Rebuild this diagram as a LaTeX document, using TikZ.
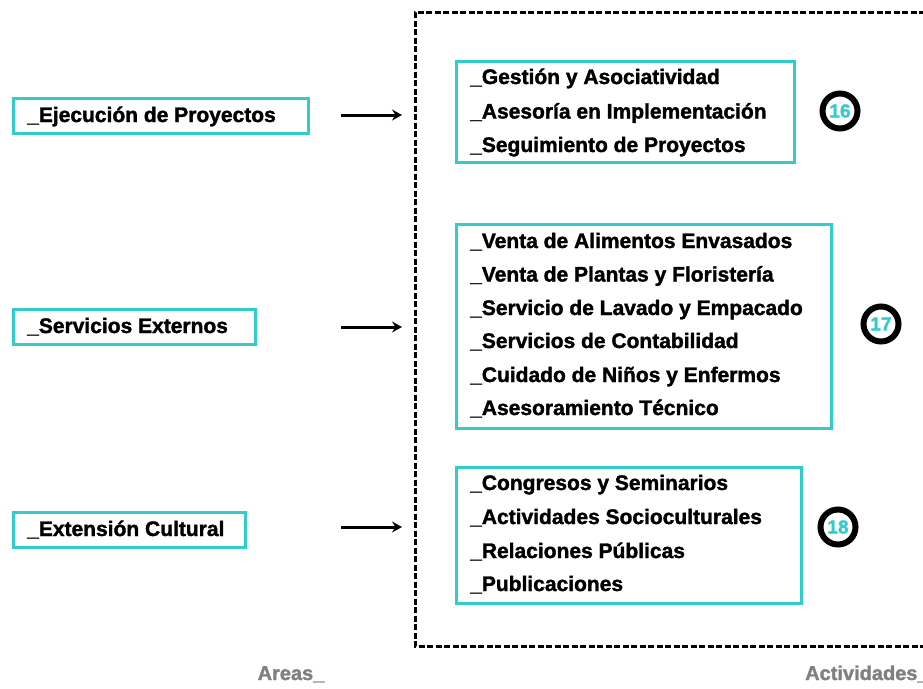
\documentclass[tikz,border=0pt]{standalone}
\usepackage{fontspec}
\setmainfont{Liberation Sans}[BoldFeatures={FakeBold=1.6}]
\usetikzlibrary{arrows.meta}
\definecolor{cy}{RGB}{51,204,204}
\definecolor{gr}{RGB}{128,128,128}
\begin{document}
\begin{tikzpicture}[x=1pt,y=-1pt,
  boxc/.style={draw=cy,line width=3pt,inner sep=0pt,anchor=north west},
  itemtxt/.style={anchor=base west,inner sep=0pt,font=\fontsize{21}{21}\selectfont\bfseries},
  num/.style={circle,draw=black,line width=6pt,minimum size=35pt,inner sep=0pt,text=cy,font=\fontsize{19}{19}\selectfont\bfseries},
  lbl/.style={inner sep=0pt,text=gr,font=\fontsize{20}{20}\selectfont\bfseries},
  arr/.style={line width=3pt,-{Stealth[length=10pt,width=11pt,inset=3.5pt]}}
]
\useasboundingbox (0,0) rectangle (923,688);

% dashed frame
\draw[line width=3pt,dash pattern=on 6pt off 2.5pt] (925,12) -- (415,12) -- (415,646) -- (925,646);

% left boxes
\node[boxc,minimum width=295pt,minimum height=35pt] (L1) at (12,97) {};
\node[itemtxt] (L1t) at (27,122) {\_Ejecución de Proyectos};
\node[boxc,minimum width=242pt,minimum height=35pt] (L2) at (12,308) {};
\node[itemtxt] (L2t) at (27,333) {\_Servicios Externos};
\node[boxc,minimum width=232pt,minimum height=35pt] (L3) at (12,511) {};
\node[itemtxt] (L3t) at (27,536) {\_Extensión Cultural};

% arrows
\coordinate (a1s) at (341,115); \coordinate (a1e) at (402,115);
\coordinate (a2s) at (341,327); \coordinate (a2e) at (402,327);
\coordinate (a3s) at (341,527); \coordinate (a3e) at (402,527);
\draw[arr] (a1s) -- (a1e);
\draw[arr] (a2s) -- (a2e);
\draw[arr] (a3s) -- (a3e);

% right box 1
\node[boxc,minimum width=338pt,minimum height=101pt] (R1) at (455,60) {};
\node[itemtxt] (R1a) at (470,84) {\_Gestión y Asociatividad};
\node[itemtxt] (R1b) at (470,118.5) {\_Asesoría en Implementación};
\node[itemtxt] (R1c) at (470,152) {\_Seguimiento de Proyectos};
\node[num] (C1) at (840,111) {16};

% right box 2
\node[boxc,minimum width=375pt,minimum height=204pt] (R2) at (455,223) {};
\node[itemtxt] (R2a) at (470,248) {\_Venta de Alimentos Envasados};
\node[itemtxt] (R2b) at (470,281.5) {\_Venta de Plantas y Floristería};
\node[itemtxt] (R2c) at (470,315) {\_Servicio de Lavado y Empacado};
\node[itemtxt] (R2d) at (470,348) {\_Servicios de Contabilidad};
\node[itemtxt] (R2e) at (470,382) {\_Cuidado de Niños y Enfermos};
\node[itemtxt] (R2f) at (470,415) {\_Asesoramiento Técnico};
\node[num] (C2) at (881,324) {17};

% right box 3
\node[boxc,minimum width=345pt,minimum height=136pt] (R3) at (455,466) {};
\node[itemtxt] (R3a) at (470,490) {\_Congresos y Seminarios};
\node[itemtxt] (R3b) at (470,524) {\_Actividades Socioculturales};
\node[itemtxt] (R3c) at (470,558) {\_Relaciones Públicas};
\node[itemtxt] (R3d) at (470,591) {\_Publicaciones};
\node[num] (C3) at (838,527) {18};

% bottom labels
\node[lbl,anchor=base] (areas) at (291,680) {Areas\_};
\node[lbl,anchor=base west] (acts) at (805,680) {Actividades\_};
\end{tikzpicture}
\end{document}
